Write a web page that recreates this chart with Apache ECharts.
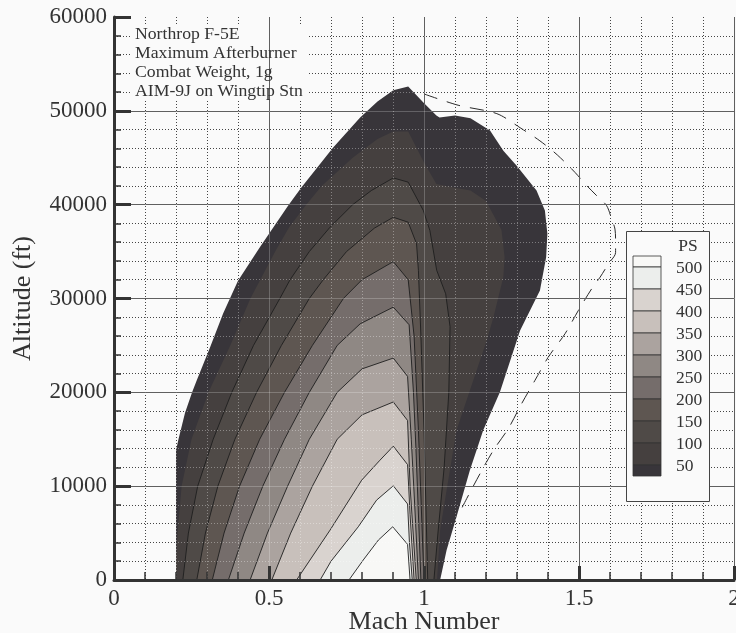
<!DOCTYPE html>
<html><head><meta charset="utf-8">
<script src="https://cdn.jsdelivr.net/npm/echarts/dist/echarts.min.js"></script>
<style>html,body{margin:0;padding:0;background:#fafafa;} #chart{width:736px;height:633px;}</style>
</head><body><div id="chart"></div>
<script>
// ---- tick labels ----
const X_TICK_LABELS = ['0', '0.5', '1', '1.5', '2'];
const Y_TICK_LABELS = ['0', '10000', '20000', '30000', '40000', '50000', '60000'];

// ---- Ps contour levels (ft/s) ----
const PS_LEVELS = [50, 100, 150, 200, 250, 300, 350, 400, 450, 500];

// ---- contour boundaries [Mach, altitude ft] ----
const PS0_ENVELOPE = [
  [0.2,0],[0.2,13800],[0.208,15000],[0.229,17800],[0.252,20000],[0.267,21300],[0.31,24800],[0.352,28400],
  [0.40,31900],[0.471,35500],[0.562,39900],[0.605,41850],[0.707,46100],[0.794,49300],[0.85,51000],
  [0.901,52200],[0.949,52600],[0.998,50900],[1.04,49500],[1.05,49300],[1.10,49500],[1.15,49200],
  [1.213,47900],[1.256,45750],[1.299,44160],[1.363,41500],[1.39,39370],[1.398,36890],[1.394,34400],
  [1.374,30860],[1.342,28730],[1.31,26600],[1.245,20040],[1.191,15960],[1.148,11700],[1.105,6740],
  [1.073,3190],[1.052,0]
];
const PS50 = [
  [0.2,0],[0.2,2500],[0.205,5000],[0.218,10000],[0.25,15000],[0.305,20000],[0.375,25000],[0.44,30000],
  [0.52,35000],[0.565,37600],[0.62,40000],[0.67,42000],[0.77,45000],[0.85,47000],[0.901,47800],
  [0.949,47800],[1.0,44500],[1.04,42200],[1.10,41800],[1.15,41500],[1.20,40400],[1.25,37300],
  [1.26,34400],[1.256,32300],[1.224,28000],[1.202,25500],[1.146,20000],[1.105,15960],[1.075,10000],
  [1.052,5320],[1.042,0]
];
const PS100 = [
  [0.222,0],[0.24,5000],[0.27,10000],[0.32,15000],[0.38,20000],[0.45,25000],[0.535,30000],[0.568,32000],
  [0.63,35000],[0.697,37600],[0.77,40000],[0.83,41500],[0.901,42850],[0.949,42400],[0.998,39370],
  [1.019,37240],[1.041,33000],[1.07,30500],[1.084,27000],[1.08,20000],[1.065,12000],[1.045,5000],[1.032,0]
];
const PS150 = [
  [0.267,0],[0.295,5000],[0.335,10000],[0.39,15000],[0.46,20000],[0.54,25000],[0.63,30000],[0.675,32000],
  [0.75,35000],[0.84,37500],[0.901,38660],[0.949,38130],[0.976,35830],[0.982,33000],[0.99,26000],
  [1.0,16000],[1.012,0]
];
const PS200 = [
  [0.317,0],[0.355,5000],[0.405,10000],[0.47,15000],[0.55,20000],[0.64,25000],[0.74,30000],[0.8,32000],
  [0.901,33930],[0.949,32000],[0.968,26000],[0.982,16000],[1.0,0]
];
const PS250 = [
  [0.369,0],[0.42,5000],[0.48,10000],[0.55,15000],[0.63,20000],[0.72,25000],[0.794,27300],[0.901,29080],
  [0.952,27200],[0.966,20000],[0.974,14000],[0.99,0]
];
const PS300 = [
  [0.439,0],[0.495,5000],[0.56,10000],[0.63,15000],[0.72,20000],[0.8,22500],[0.901,23650],[0.947,21700],
  [0.959,15000],[0.97,8000],[0.982,0]
];
const PS350 = [
  [0.509,0],[0.57,5000],[0.64,10000],[0.72,15000],[0.8,17600],[0.901,18970],[0.947,17000],[0.955,10000],[0.975,0]
];
const PS400 = [
  [0.589,0],[0.697,5320],[0.799,10640],[0.858,12770],[0.901,14260],[0.947,12300],[0.955,7000],[0.968,0]
];
const PS450 = [
  [0.665,0],[0.70,2000],[0.788,5670],[0.847,8510],[0.901,10040],[0.947,8100],[0.953,4000],[0.962,0]
];
const PS500 = [
  [0.758,0],[0.804,2130],[0.853,4260],[0.899,5670],[0.947,3800],[0.955,0]
];

// dashed boundary curve
const DASHED_LIMIT = [
  [1.0,51800],[1.11,50600],[1.235,49700],[1.31,48200],[1.374,46800],[1.43,45300],[1.487,43440],
  [1.525,42030],[1.557,40960],[1.589,39900],[1.605,38500],[1.616,37400],[1.618,36000],[1.618,34900],
  [1.595,33700],[1.568,32270],[1.541,31040],[1.498,28730],[1.455,26250],[1.401,23760],[1.358,21280],
  [1.315,18800],[1.272,16140],[1.224,13830],[1.181,11350],[1.138,8690],[1.116,7270]
];

// band colours: [0-50, 50-100, ..., 450-500, >500]
const BAND_COLORS = ['#38353a','#45403f','#4f4a47','#5e5651','#756d6b','#8f8884','#aba39f','#c8c0bb','#d9d3cf','#eceeec','#f8f8f6'];

const NOTE_LINES = ['Northrop F-5E', 'Maximum Afterburner', 'Combat Weight, 1g', 'AIM-9J on Wingtip Stn'];

const CONTOURS = [PS0_ENVELOPE, PS50, PS100, PS150, PS200, PS250, PS300, PS350, PS400, PS450, PS500];

const FONT = 'Liberation Serif';
const TXT = '#333';

const chart = echarts.init(document.getElementById('chart'), null, {renderer: 'canvas'});

// legend graphics
const LEG = {x: 633, w: 28, top: 256, half: 11, step: 22, labelX: 676};
const legendEls = [];
legendEls.push({type: 'rect', shape: {x: 626.5, y: 231.5, width: 83, height: 270}, style: {fill: '#fafafa', stroke: '#444', lineWidth: 1}, z: 100});
legendEls.push({type: 'text', style: {x: 688, y: 246, text: 'PS', font: '17.5px ' + FONT, fill: TXT, align: 'center', verticalAlign: 'middle'}, z: 101});
const swatchColors = BAND_COLORS.slice().reverse();
let yy = LEG.top;
swatchColors.forEach((c, k) => {
  const h = (k === 0 || k === swatchColors.length - 1) ? LEG.half : LEG.step;
  legendEls.push({type: 'rect', shape: {x: LEG.x, y: yy, width: LEG.w, height: h}, style: {fill: c, stroke: '#333', lineWidth: 0.8}, z: 101});
  yy += h;
});
PS_LEVELS.slice().reverse().forEach((lv, k) => {
  const y = LEG.top + LEG.half + k * LEG.step;
  legendEls.push({type: 'text', style: {x: LEG.labelX, y: y + 1, text: String(lv), font: '17.5px ' + FONT, fill: TXT, align: 'left', verticalAlign: 'middle'}, z: 101});
});
// note block (background split so the Mach 0.5 grid line stays visible)
const noteEls = [
  {type: 'rect', shape: {x: 131, y: 26, width: 137, height: 75}, style: {fill: '#fafafa'}, z: 50},
  {type: 'rect', shape: {x: 270, y: 26, width: 37, height: 75}, style: {fill: '#fafafa'}, z: 50}
];
NOTE_LINES.forEach((t, k) => {
  noteEls.push({type: 'text', style: {x: 135, y: 34 + k * 19, text: t, font: '17.7px ' + FONT, fill: TXT, align: 'left', verticalAlign: 'middle'}, z: 51});
});

const axisLabelStyle = {fontFamily: FONT, fontSize: 23, color: TXT};

const option = {
  backgroundColor: '#fafafa',
  animation: false,
  grid: {left: 114, right: 2, top: 17, bottom: 53, containLabel: false, outerBoundsMode: 'none'},
  xAxis: [
    {
      type: 'value', min: 0, max: 2, interval: 0.5, z: 0,
      name: 'Mach Number', nameLocation: 'middle', nameGap: 29, nameMoveOverlap: false,
      nameTextStyle: {fontFamily: FONT, fontSize: 26, color: TXT},
      axisLine: {show: false},
      axisTick: {show: false},
      axisLabel: {show: true, margin: 7, ...axisLabelStyle, formatter: v => X_TICK_LABELS[Math.round(v / 0.5)]},
      splitLine: {show: true, showMinLine: false, lineStyle: {color: '#333', width: 1}},
      minorTick: {show: false, splitNumber: 5},
      minorSplitLine: {show: true, lineStyle: {color: '#444', width: 1, type: [1, 2]}}
    },
    {
      type: 'value', min: 0, max: 2, interval: 0.5, position: 'bottom', z: 5,
      axisLine: {show: true, onZero: false, lineStyle: {color: '#333', width: 3}},
      axisTick: {show: true, inside: true, length: 14, lineStyle: {color: '#333', width: 3}},
      minorTick: {show: true, splitNumber: 5, length: 8, lineStyle: {color: '#333', width: 1.5}},
      axisLabel: {show: false},
      splitLine: {show: true, showMinLine: false, lineStyle: {color: 'rgba(255,255,255,0.22)', width: 1}},
      minorSplitLine: {show: true, lineStyle: {color: 'rgba(255,255,255,0.35)', width: 1, type: [1, 2], dashOffset: 2}}
    }
  ],
  yAxis: [
    {
      type: 'value', min: 0, max: 60000, interval: 10000, z: 0,
      name: 'Altitude (ft)', nameLocation: 'middle', nameGap: 78,
      nameTextStyle: {fontFamily: FONT, fontSize: 26, color: TXT},
      axisLine: {show: false},
      axisTick: {show: false},
      axisLabel: {show: true, margin: 7, ...axisLabelStyle, formatter: v => Y_TICK_LABELS[Math.round(v / 10000)]},
      splitLine: {show: true, showMinLine: false, showMaxLine: false, lineStyle: {color: '#333', width: 1}},
      minorTick: {show: false, splitNumber: 5},
      minorSplitLine: {show: true, lineStyle: {color: '#444', width: 1, type: [1, 2]}}
    },
    {
      type: 'value', min: 0, max: 60000, interval: 10000, position: 'left', z: 5,
      axisLine: {show: true, onZero: false, lineStyle: {color: '#333', width: 3}},
      axisTick: {show: true, inside: true, length: 17, lineStyle: {color: '#333', width: 3}},
      minorTick: {show: true, splitNumber: 5, length: 7, lineStyle: {color: '#333', width: 1.5}},
      axisLabel: {show: false},
      splitLine: {show: true, showMinLine: false, showMaxLine: false, lineStyle: {color: 'rgba(255,255,255,0.22)', width: 1}},
      minorSplitLine: {show: true, lineStyle: {color: 'rgba(255,255,255,0.35)', width: 1, type: [1, 2], dashOffset: 2}}
    }
  ],
  series: [
    {
      type: 'custom', xAxisIndex: 0, yAxisIndex: 0, z: 2, silent: true,
      data: CONTOURS.map(c => ({value: c[0]})),
      renderItem: function (params, api) {
        const i = params.dataIndex;
        const pts = CONTOURS[i].map(p => api.coord(p));
        return {
          type: 'polygon',
          shape: {points: pts},
          style: {fill: BAND_COLORS[i], stroke: i >= 2 ? '#1e1e1e' : null, lineWidth: 0.9}
        };
      }
    },
    {
      type: 'line', xAxisIndex: 0, yAxisIndex: 0, z: 4, silent: true,
      data: DASHED_LIMIT, showSymbol: false, smooth: 0.3,
      lineStyle: {color: '#2a2a2a', width: 1, type: [14, 10]}
    }
  ],
  graphic: noteEls.concat(legendEls)
};
chart.setOption(option);
</script></body></html>
